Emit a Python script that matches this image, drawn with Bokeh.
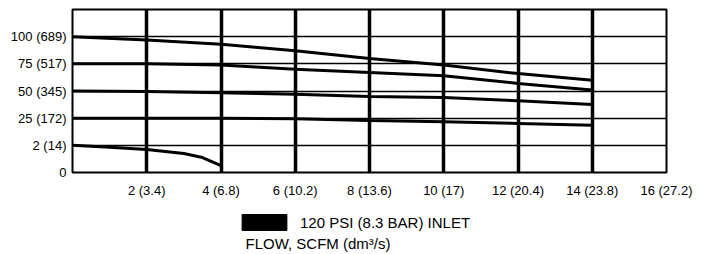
import numpy as np
from bokeh.plotting import figure
from bokeh.layouts import column
from bokeh.models import Range1d, FixedTicker, Legend, LegendItem, Label
from bokeh.embed import file_html
from bokeh.resources import INLINE

# ---- data ----
flow_x = [0, 2, 4, 6, 8, 10, 12, 14]
p100 = [100, 97, 93, 87, 80, 74, 66, 60]
p75 = [75, 75, 74, 70, 67, 64, 57, 51]
p50 = [50, 49.5, 48.5, 47, 45, 44, 41, 37.5]
p25 = [25, 25, 25, 24.5, 23, 22, 20.5, 19]
flow_x2 = [0, 1, 2, 3, 3.5, 4]
p2 = [2, 1.85, 1.7, 1.4, 1.1, 0.5]

pressure_levels = [0, 2, 25, 50, 75, 100]
pressure_labels = ["0", "2 (14)", "25 (172)", "50 (345)", "75 (517)", "100 (689)"]
flow_ticks = [2, 4, 6, 8, 10, 12, 14, 16]
flow_labels = ["2 (3.4)", "4 (6.8)", "6 (10.2)", "8 (13.6)", "10 (17)",
               "12 (20.4)", "14 (23.8)", "16 (27.2)"]
legend_text = "120 PSI (8.3 BAR) INLET"
x_title = "FLOW, SCFM (dm\u00b3/s)"

FONT = "Liberation Sans"
slots = list(range(len(pressure_levels)))


def to_slot(v):
    # the chart's pressure axis spaces its levels evenly
    return np.interp(v, pressure_levels, slots)


W = 707
H_MAIN = 200
H_FOOT = 54
LEFT = 72
RIGHT = 41

p = figure(width=W, height=H_MAIN, output_backend="svg", toolbar_location=None,
           x_range=Range1d(0, 16), y_range=Range1d(0, 6),
           min_border_left=LEFT, min_border_right=RIGHT, min_border_top=9,
           min_border_bottom=H_MAIN - 176)
p.title = None
p.background_fill_color = "white"
p.border_fill_color = "white"
p.outline_line_color = "black"
p.outline_line_width = 2

# x axis
p.xaxis.ticker = FixedTicker(ticks=flow_ticks)
p.xaxis.major_label_overrides = {t: l for t, l in zip(flow_ticks, flow_labels)}
p.xaxis.axis_line_color = None
p.xaxis.major_tick_line_color = None
p.xaxis.minor_tick_line_color = None
p.xaxis.major_label_text_font = FONT
p.xaxis.major_label_text_font_size = "13px"
p.xaxis.major_label_text_color = "black"
p.xaxis.major_label_standoff = 4

# y axis
p.yaxis.ticker = FixedTicker(ticks=slots)
p.yaxis.major_label_overrides = {s: l for s, l in zip(slots, pressure_labels)}
p.yaxis.axis_line_color = None
p.yaxis.major_tick_line_color = None
p.yaxis.minor_tick_line_color = None
p.yaxis.major_label_text_font = FONT
p.yaxis.major_label_text_font_size = "13px"
p.yaxis.major_label_text_color = "black"
p.yaxis.major_label_standoff = 0

# grids
p.xgrid.ticker = FixedTicker(ticks=flow_ticks[:-1])
p.xgrid.grid_line_color = "black"
p.xgrid.grid_line_width = 3.5
p.xgrid.grid_line_alpha = 1
p.ygrid.ticker = FixedTicker(ticks=slots[1:])
p.ygrid.grid_line_color = "black"
p.ygrid.grid_line_width = 1.5
p.ygrid.grid_line_alpha = 1

# curves
for xs, ys in [(flow_x, p100), (flow_x, p75), (flow_x, p50), (flow_x, p25), (flow_x2, p2)]:
    p.line(xs, to_slot(ys), line_color="black", line_width=3)

# ---- footer figure: legend and axis title (frame aligned with main frame) ----
FW = W - LEFT - RIGHT
f = figure(width=W, height=H_FOOT, output_backend="svg", toolbar_location=None,
           x_range=Range1d(0, FW), y_range=Range1d(0, H_FOOT),
           min_border_left=LEFT, min_border_right=RIGHT,
           min_border_top=0, min_border_bottom=0)
f.title = None
f.axis.visible = False
f.grid.visible = False
f.outline_line_color = None
f.background_fill_color = "white"
f.border_fill_color = "white"

# legend swatch renderer (nothing drawn in the frame, only the legend key)
r = f.rect(x=[np.nan], y=[np.nan], width=1, height=1,
           fill_color="black", line_color="black")
legend = Legend(items=[LegendItem(label=legend_text, renderers=[r])],
                location=(236 - LEFT, 22), glyph_width=56, glyph_height=20,
                label_height=20, label_standoff=8, padding=0, margin=0,
                border_line_color=None, background_fill_alpha=0,
                label_text_font=FONT, label_text_font_size="15px",
                label_text_color="black")
f.add_layout(legend)

f.add_layout(Label(x=245 - LEFT, y=11, text=x_title, text_align="left",
                   text_baseline="middle", text_font=FONT,
                   text_font_size="15px", text_color="black"))

layout = column(p, f, spacing=0)
open("out.html", "w").write(file_html(layout, INLINE))
